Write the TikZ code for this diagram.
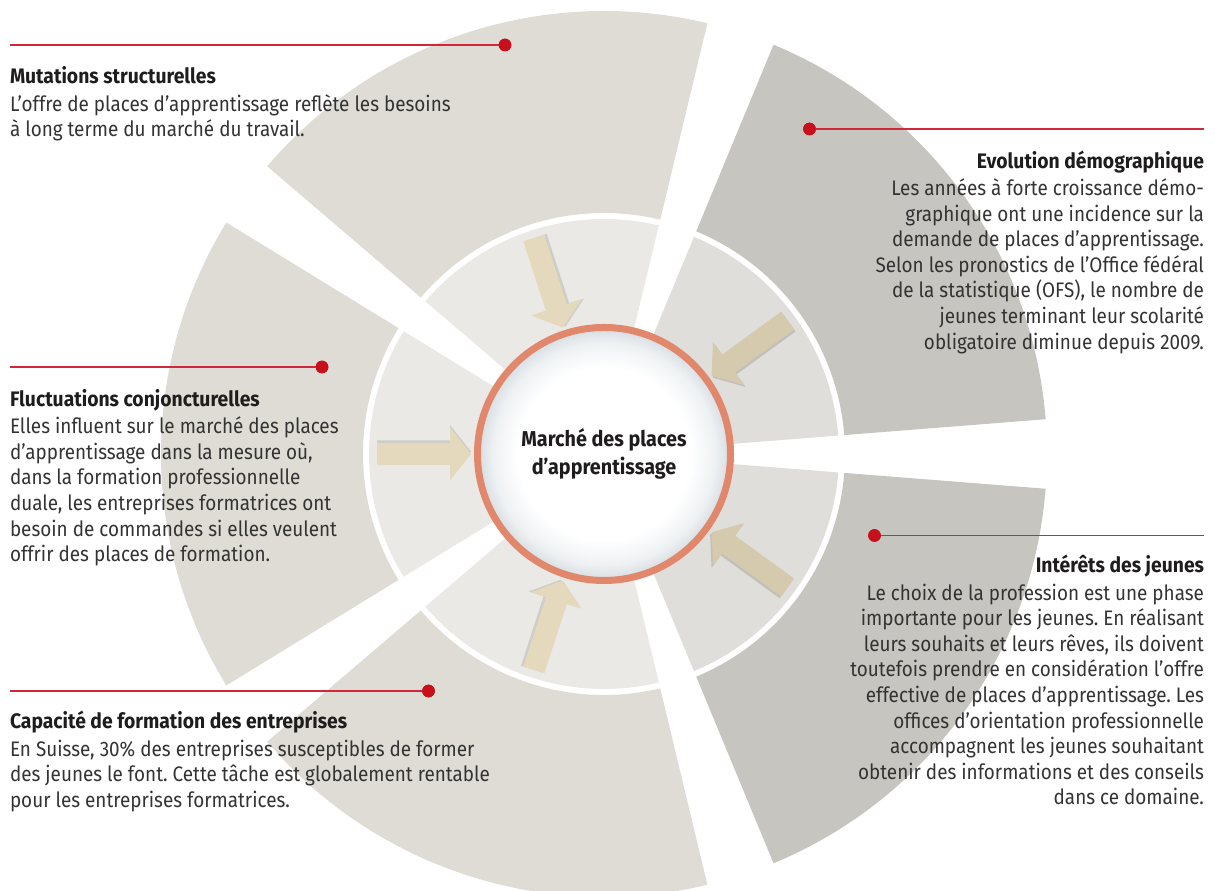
\documentclass[tikz,border=0pt]{standalone}
\usepackage{fontspec}
\setmainfont{Fira Sans}[FakeStretch=0.9, BoldFeatures={FakeStretch=0.92}]
\definecolor{outerL}{HTML}{DFDCD5}
\definecolor{outerD}{HTML}{C6C5BF}
\definecolor{innerL}{HTML}{EAE9E5}
\definecolor{innerD}{HTML}{DFDEDA}
\definecolor{arrL}{HTML}{E4D9BC}
\definecolor{arrD}{HTML}{D5CAAD}
\definecolor{shadL}{HTML}{CFCDC8}
\definecolor{shadD}{HTML}{C2C0BA}
\definecolor{ringc}{HTML}{E0876C}
\definecolor{bubE}{HTML}{EEF1F3}
\definecolor{bubF}{HTML}{D6DCE1}
\definecolor{redl}{HTML}{D0283A}
\definecolor{redd}{HTML}{C8101C}
\definecolor{bodyc}{HTML}{333333}
\definecolor{headc}{HTML}{1E1C1D}
\pgfdeclareradialshading{bubble}{\pgfpoint{0bp}{0bp}}{color(0bp)=(white); color(17bp)=(white); color(22bp)=(bubE); color(25bp)=(bubF); color(50bp)=(bubF)}
\newcommand\annsec[5]{\fill[#5] (#1:#3) arc[start angle=#1,end angle=#2,radius=#3] -- (#2:#4) arc[start angle=#2,end angle=#1,radius=#4] -- cycle;}
\newcommand\hd[1]{{\bfseries\color{headc}#1}}
\frenchspacing
\tikzset{
  bodytxt/.style={font=\frenchspacing\fontsize{21}{25.6}\selectfont, text=bodyc, inner sep=0pt, outer sep=0pt},
  redline/.style={draw=redl, line width=1.3pt},
  reddot/.style={circle, fill=redd, minimum size=12.6pt, inner sep=0pt, outer sep=0pt},
  market/.style={circle, draw=ringc, line width=7pt, minimum size=253pt, inner sep=0pt, shading=bubble, font=\fontsize{21.5}{27.3}\selectfont\bfseries, text=headc, align=center}
}
\begin{document}
\begin{tikzpicture}[x=1pt,y=1pt]
\useasboundingbox (0,0) rectangle (1215,891);
\begin{scope}
\clip (0,0) rectangle (1215,891);
\begin{scope}[shift={(604,437)}]
  % outer sectors
  \annsec{4.5}{67.5}{241}{443}{outerD}
  \annsec{76.5}{139.5}{241}{443}{outerL}
  \annsec{148.5}{211.5}{241}{443}{outerL}
  \annsec{220.5}{283.5}{241}{443}{outerL}
  \annsec{292.5}{355.5}{241}{443}{outerD}
  % inner ring sectors
  \annsec{4.5}{67.5}{60}{235}{innerD}
  \annsec{76.5}{139.5}{60}{235}{innerL}
  \annsec{148.5}{211.5}{60}{235}{innerL}
  \annsec{220.5}{283.5}{60}{235}{innerL}
  \annsec{292.5}{355.5}{60}{235}{innerD}
  % arrows
  \foreach \a/\c/\s in {36/arrD/shadD,108/arrL/shadL,180/arrL/shadL,252/arrL/shadL,324/arrD/shadD}{
    \begin{scope}[rotate=\a]
      \fill[\s] (227,8.5) -- (154,8.5) -- (154,24) -- (133,-2.5) -- (154,-29) -- (154,-13.5) -- (227,-13.5) -- cycle;
      \fill[\c] (227,11) -- (154,11) -- (154,26.5) -- (133,0) -- (154,-26.5) -- (154,-11) -- (227,-11) -- cycle;
    \end{scope}
  }
  \node[market] (mkt) at (0,0) {Marché des places\\d’apprentissage};
\end{scope}
\end{scope}

% red leader lines and dots
\coordinate (mutL) at (10,846);
\node[reddot] (mutD) at (505,846) {};
\draw[redline] (mutL) -- (mutD.center);
\node[reddot] at (mutD) {};

\coordinate (evoR) at (1204,762);
\node[reddot] (evoD) at (809.5,762) {};
\draw[redline] (evoD.center) -- (evoR);
\node[reddot] at (evoD) {};

\coordinate (fluL) at (10,524);
\node[reddot] (fluD) at (322,524) {};
\draw[redline] (fluL) -- (fluD.center);
\node[reddot] at (fluD) {};

\coordinate (intR) at (1204,355.5);
\node[reddot] (intD) at (874.5,355.5) {};
\draw[redline] (intD.center) -- (intR);
\node[reddot] at (intD) {};

\coordinate (capL) at (10,200);
\node[reddot] (capD) at (428.5,200) {};
\draw[redline] (capL) -- (capD.center);
\node[reddot] at (capD) {};

% texts (base anchor = baseline of the last line)
\node[bodytxt, anchor=base west, align=left] (mutT) at (10,754.1)
  {\hd{Mutations structurelles}\\[1.7pt]
   L’offre de places d’apprentissage reflète les besoins\\
   à long terme du marché du travail.};

\node[bodytxt, anchor=base east, align=right] (evoT) at (1204,541.8)
  {\hd{Evolution démographique}\\[1.7pt]
   Les années à forte croissance démo-\\
   graphique ont une incidence sur la\\
   demande de places d’apprentissage.\\
   Selon les pronostics de l’Office fédéral\\
   de la statistique (OFS), le nombre de\\
   jeunes terminant leur scolarité\\
   obligatoire diminue depuis 2009.};

\node[bodytxt, anchor=base west, align=left] (fluT) at (10,329.3)
  {\hd{Fluctuations conjoncturelles}\\[1.7pt]
   Elles influent sur le marché des places\\
   d’apprentissage dans la mesure où,\\
   dans la formation professionnelle\\
   duale, les entreprises formatrices ont\\
   besoin de commandes si elles veulent\\
   offrir des places de formation.};

\node[bodytxt, anchor=base east, align=right] (intT) at (1204,86)
  {\hd{Intérêts des jeunes}\\[1.7pt]
   Le choix de la profession est une phase\\
   importante pour les jeunes. En réalisant\\
   leurs souhaits et leurs rêves, ils doivent\\
   toutefois prendre en considération l’offre\\
   effective de places d’apprentissage. Les\\
   offices d’orientation professionnelle\\
   accompagnent les jeunes souhaitant\\
   obtenir des informations et des conseils\\
   dans ce domaine.};

\node[bodytxt, anchor=base west, align=left] (capT) at (10,83.7)
  {\hd{Capacité de formation des entreprises}\\[1.7pt]
   En Suisse, 30\% des entreprises susceptibles de former\\
   des jeunes le font. Cette tâche est globalement rentable\\
   pour les entreprises formatrices.};
\end{tikzpicture}
\end{document}
